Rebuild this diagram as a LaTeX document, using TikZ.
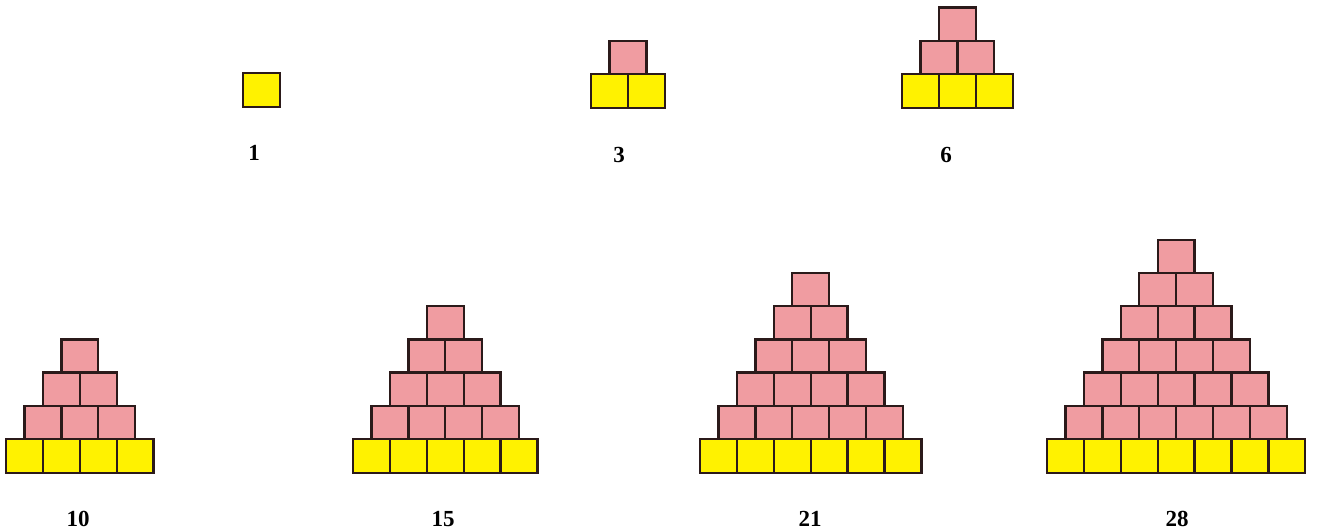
\documentclass[tikz,border=0pt]{standalone}
\usepackage{fontspec}
\setmainfont{Liberation Serif}
\definecolor{cellyellow}{HTML}{FFF200}
\definecolor{cellpink}{HTML}{F09CA1}
\definecolor{edge}{HTML}{2B1A1A}
% cell sizes in px
\newcommand{\cw}{36.9}
\newcommand{\yh}{34}
\newcommand{\ph}{33.2}
% one stack of cells: name, n, left x, bottom y
\newcommand{\stairs}[4]{%
  \foreach \c in {1,...,#2}
    \node[ycell] (#1-0-\c) at ({#3+(\c-1)*\cw},#4) {};
  \ifnum#2>1
    \pgfmathtruncatemacro{\nrows}{#2-1}
    \foreach \r in {1,...,\nrows}{
      \pgfmathtruncatemacro{\ncell}{#2-\r}
      \foreach \c in {1,...,\ncell}
        \node[pcell] (#1-\r-\c) at ({#3+(\r/2+\c-1)*\cw},{#4-\yh-(\r-1)*\ph}) {};
    }
  \fi}

\begin{document}
\begin{tikzpicture}[
    x=1pt, y=-1pt,
    cell/.style={draw=edge, line width=2.3pt, anchor=south west, inner sep=0pt, outer sep=0pt, minimum width=\cw pt},
    ycell/.style={cell, fill=cellyellow, minimum height=\yh pt},
    pcell/.style={cell, fill=cellpink, minimum height=\ph pt},
    num/.style={font=\fontsize{23}{26}\selectfont\bfseries, anchor=base, inner sep=0pt}
  ]
  \useasboundingbox (0,0) rectangle (1322,531);

  % top row
  \stairs{s1}{1}{243}{107}
  \stairs{s3}{2}{591}{108}
  \stairs{s6}{3}{902}{108}
  \node[num] (n1) at (254,160) {1};
  \node[num] (n3) at (619,162) {3};
  \node[num] (n6) at (946,162) {6};

  % bottom row
  \stairs{s10}{4}{6}{473}
  \stairs{s15}{5}{353}{473}
  \stairs{s21}{6}{700}{473}
  \stairs{s28}{7}{1047}{473}
  \node[num] (n10) at (78,526) {10};
  \node[num] (n15) at (443,526) {15};
  \node[num] (n21) at (810,526) {21};
  \node[num] (n28) at (1177,526) {28};
\end{tikzpicture}
\end{document}
